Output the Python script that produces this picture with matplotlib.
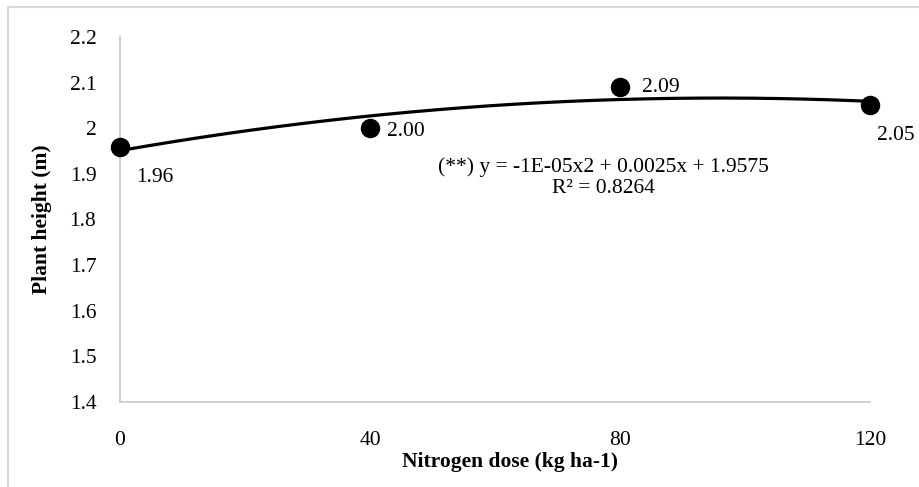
import numpy as np
import matplotlib
matplotlib.use("Agg")
import matplotlib.pyplot as plt
from matplotlib.lines import Line2D

# nitrogen dose vs plant height
doses = [0, 40, 80, 120]
heights = [1.96, 2.00, 2.09, 2.05]
point_labels = ["1.96", "2.00", "2.09", "2.05"]
equation = "(**) y = -1E-05x2 + 0.0025x + 1.9575\nR² = 0.8264"

plt.rcParams['font.family'] = ['Liberation Serif', 'DejaVu Serif']
plt.rcParams['font.size'] = 15.5

W, H = 919, 487
fig = plt.figure(figsize=(W/100, H/100), dpi=100)

# outer chart border (only top/left visible in the crop)
fig.add_artist(Line2D([8/W, 8/W], [0, 1-7/H], color='#d9d9d9', lw=1.5))
fig.add_artist(Line2D([8/W, 1], [1-7/H, 1-7/H], color='#d9d9d9', lw=1.5))

ax = fig.add_axes([120/W, 1-402/H, 750/W, 365/H])

# polynomial trendline
coef = np.polyfit(doses, heights, 2)
xs = np.linspace(0, 120, 200)
ax.plot(xs, np.polyval(coef, xs), color='black', lw=2.3, zorder=2)
ax.plot(doses, heights, 'o', color='black', ms=13, zorder=3, clip_on=False)

# data labels
offsets = [(12, -22), (12, -2), (16, 0), (5, -22)]
for x, y, lab, off in zip(doses, heights, point_labels, offsets):
    ax.annotate(lab, (x, y), xytext=off, textcoords='offset points',
                ha='left', va='center')

ax.text(0.645, 0.615, equation, transform=ax.transAxes, ha='center',
        va='center', linespacing=1.15)

ax.set_xlim(0, 120)
ax.set_ylim(1.4, 2.2)
ax.set_xticks(doses)
ax.set_yticks(np.arange(1.4, 2.21, 0.1))
ax.set_yticklabels(["1.4", "1.5", "1.6", "1.7", "1.8", "1.9", "2", "2.1", "2.2"])
ax.tick_params(length=0)
ax.tick_params(axis='y', pad=17)
ax.tick_params(axis='x', pad=21)

for s in ['top', 'right']:
    ax.spines[s].set_visible(False)
for s in ['left', 'bottom']:
    ax.spines[s].set_color('#c8c8c8')
    ax.spines[s].set_linewidth(1.2)

fig.text(510/W, 1-462/H, "Nitrogen dose (kg ha-1)", ha='center', va='center',
         fontweight='bold')
fig.text(42/W, 1-219/H, "Plant height (m)", ha='center', va='center',
         fontweight='bold', rotation=90)

fig.savefig("out.png", dpi=100)
